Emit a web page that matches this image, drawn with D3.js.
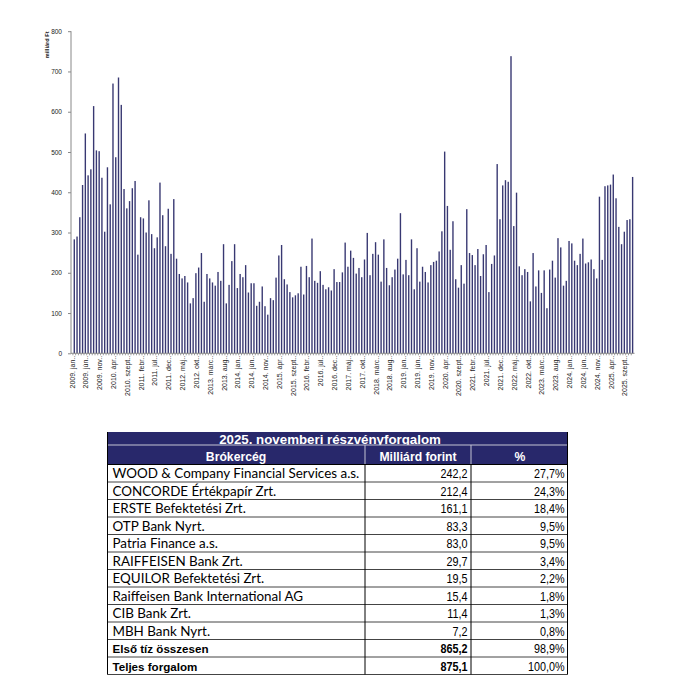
<!DOCTYPE html>
<html>
<head>
<meta charset="utf-8">
<script src="https://cdn.jsdelivr.net/npm/d3@7"></script>
<style>
html,body{margin:0;padding:0;background:#fff;}
svg{display:block;}
</style>
</head>
<body>
<svg id="chart" width="687" height="682"></svg>
<script>
// ---- DATA ----
const years = [2009,2010,2011,2012,2013,2014,2015,2016,2017,2018,2019,2020,2021,2022,2023,2024,2025];
const monthNames = ["jan.","febr.","márc.","ápr.","máj.","jún.","júl.","aug.","szept.","okt.","nov.","dec."];
const values = [
  283,290,338,418,546,442,457,614,504,502,436,302,
  462,370,670,487,685,617,408,360,378,410,428,245,
  338,335,300,380,296,261,288,424,343,266,359,247,
  383,235,197,186,192,176,124,137,199,213,249,128,
  197,186,176,168,202,180,271,124,170,229,271,162,
  197,189,219,151,174,174,118,128,166,117,96,137,
  132,188,243,269,184,171,152,139,144,149,215,146,
  217,189,285,180,175,204,170,159,164,156,209,177,
  177,201,275,215,255,237,198,212,189,233,299,194,
  247,276,245,178,283,212,169,189,208,235,348,196,
  232,194,283,159,261,178,215,202,176,219,227,230,
  253,303,501,366,257,328,184,163,219,173,358,249,
  244,219,259,192,246,269,152,222,243,470,333,417,
  430,426,738,316,399,216,194,209,202,129,249,166,
  206,150,206,112,208,230,188,286,263,168,180,279,
  273,230,219,247,285,223,226,233,209,186,389,232,
  415,417,419,444,385,314,271,302,331,333,438
];
const yTicks = [0,100,200,300,400,500,600,700,800];
const yTitle = "milliárd Ft";

const tableTitle = "2025. novemberi részvényforgalom";
const tableHeaders = ["Brókercég","Milliárd forint","%"];
const brokers = ["WOOD & Company Financial Services a.s.","CONCORDE Értékpapír Zrt.","ERSTE Befektetési Zrt.","OTP Bank Nyrt.","Patria Finance a.s.","RAIFFEISEN Bank Zrt.","EQUILOR Befektetési Zrt.","Raiffeisen Bank International AG","CIB Bank Zrt.","MBH Bank Nyrt."];
const brokerVolume = ["242,2","212,4","161,1","83,3","83,0","29,7","19,5","15,4","11,4","7,2"];
const brokerShare = ["27,7%","24,3%","18,4%","9,5%","9,5%","3,4%","2,2%","1,8%","1,3%","0,8%"];
const totalLabels = ["Első tíz összesen","Teljes forgalom"];
const totalVolume = ["865,2","875,1"];
const totalShare = ["98,9%","100,0%"];

// categories (Excel-style "éééé. hhh." labels, hence the double dot)
const categories = [];
years.forEach(y => monthNames.forEach(m => { categories.push(y + ". " + m + "."); }));
categories.length = values.length;
const data = categories.map((c,i)=>({cat:c, v:values[i]}));
const tickCats = categories.filter((c,i)=> i % 5 === 0);

// ---- CHART ----
const svg = d3.select("#chart");
const axisX0 = 71, axisX1 = 634.5;
const x = d3.scaleBand().domain(categories).range([72.9, 634.0]).paddingInner(0.5).paddingOuter(0.25);
const y = d3.scaleLinear().domain([0,800]).range([353.3, 31.2]);
const arial = "'Liberation Sans', Arial, sans-serif";

const g = svg.append("g");

g.selectAll("rect.bar").data(data).enter().append("rect")
  .attr("class","bar")
  .attr("x", d => x(d.cat))
  .attr("width", x.bandwidth())
  .attr("y", d => y(d.v))
  .attr("height", d => y(0) - y(d.v))
  .attr("fill", "#383872");

// y axis
const yAxis = g.append("g").attr("transform", `translate(${axisX0},0)`)
  .call(d3.axisLeft(y).tickValues(yTicks).tickSize(3).tickFormat(d3.format("d")));
yAxis.select(".domain").attr("stroke","#888").attr("d", `M0,${y(800)}V${y(0)}`);
yAxis.selectAll(".tick line").attr("stroke","#888");
yAxis.selectAll(".tick text").attr("x",-9).attr("font-family",arial).attr("font-size","6.5px").attr("fill","#222");

// y title
g.append("text")
  .attr("transform", `translate(48.8,31.5) rotate(-90)`)
  .attr("text-anchor","end")
  .attr("font-family",arial)
  .attr("font-size","5.6px").attr("font-weight","bold").attr("fill","#222")
  .text(yTitle);

// x axis: small ticks at every category
const xTicks = g.append("g").attr("transform", `translate(0,${y(0)})`)
  .call(d3.axisBottom(x).tickValues(categories).tickSize(2).tickFormat(""));
xTicks.select(".domain").attr("stroke","#888").attr("d", `M${axisX0},0H${axisX1}`);
xTicks.selectAll(".tick line").attr("stroke","#999").attr("transform", `translate(${-x.step()/2},0)`);

// x labels every 5th
const xLab = g.append("g").attr("transform", `translate(0,${y(0)})`)
  .call(d3.axisBottom(x).tickValues(tickCats).tickSize(0));
xLab.select(".domain").remove();
xLab.selectAll(".tick text")
  .attr("transform","rotate(-90)")
  .attr("text-anchor","end")
  .attr("x",-2.5).attr("y",-2.2).attr("dy","0.35em")
  .attr("font-family",arial)
  .attr("font-size","7px").attr("fill","#222");

// ---- TABLE ----
const tx0 = 107.5, tc1 = 365, tc2 = 471, tx3 = 567.5;
const titleTop = 432, headTop = 445, dataTop = 464.5, rowH = 17.5;
const navy = "#28286b";
const t = svg.append("g");

svg.append("defs").append("clipPath").attr("id","titleClip")
  .append("rect").attr("x",tx0).attr("y",titleTop).attr("width",tx3-tx0).attr("height",headTop-titleTop);

t.append("rect").attr("x",tx0).attr("y",titleTop).attr("width",tx3-tx0).attr("height",dataTop-titleTop).attr("fill",navy);

t.append("text").attr("clip-path","url(#titleClip)").attr("x",330).attr("y",headTop-1.3).attr("text-anchor","middle")
  .attr("font-family",arial).attr("font-weight","bold").attr("font-size","13.3px").attr("fill","#fff").text(tableTitle);
t.append("line").attr("x1",tx0).attr("x2",tx3).attr("y1",headTop).attr("y2",headTop).attr("stroke","#c4c4d4").attr("stroke-width",1);
[tc1,tc2].forEach(cx => t.append("line").attr("x1",cx).attr("x2",cx).attr("y1",headTop).attr("y2",dataTop).attr("stroke","#c4c4d4").attr("stroke-width",1));

function stretched(sel, xx, yy, k){
  return sel.attr("transform", `translate(${xx},${yy}) scale(1,${k})`);
}
const headX = [236, 418, 520];
tableHeaders.forEach((h,i)=> stretched(t.append("text"), headX[i], dataTop-3.2, 1.08).attr("text-anchor","middle")
  .attr("font-family",arial).attr("font-weight","bold").attr("font-size","12.2px").attr("fill","#fff").text(h));

const rows = brokers.map((b,i)=>({name:b, vol:brokerVolume[i], share:brokerShare[i], bold:false}))
  .concat(totalLabels.map((b,i)=>({name:b, vol:totalVolume[i], share:totalShare[i], bold:true})));
const nRows = rows.length;
const tableBottom = dataTop + nRows*rowH;

// grid lines
for (let i=0;i<=nRows;i++){
  t.append("line").attr("x1",tx0).attr("x2",tx3).attr("y1",dataTop+i*rowH).attr("y2",dataTop+i*rowH)
   .attr("stroke", i===0 ? "#000" : "#444").attr("stroke-width",1);
}
[tx0,tx3].forEach(cx => t.append("line").attr("x1",cx).attr("x2",cx).attr("y1",titleTop).attr("y2",tableBottom).attr("stroke","#000").attr("stroke-width",1));
[tc1,tc2].forEach(cx => t.append("line").attr("x1",cx).attr("x2",cx).attr("y1",dataTop).attr("y2",tableBottom).attr("stroke","#000").attr("stroke-width",1));

// name font calibration (match the reference width of the first broker name)
const probe = t.append("text").attr("font-family","Lato, 'Open Sans', sans-serif").attr("font-size","12px").text(brokers[0]);
const w = probe.node().getComputedTextLength();
probe.remove();
const nameSize = 12 * 247 / w;

rows.forEach((r,i)=>{
  const base = dataTop + (i+1)*rowH - 4;
  stretched(t.append("text"), 112.5, base, 1.0)
   .attr("font-family", r.bold ? arial : "Lato, 'Open Sans', sans-serif")
   .attr("font-size", r.bold ? "11.6px" : nameSize+"px")
   .attr("font-weight", r.bold ? "bold" : "normal").attr("fill","#000").text(r.name);
  stretched(t.append("text"), 467.5, base, 1.1).attr("text-anchor","end")
   .attr("font-family",arial).attr("font-size","10.8px").attr("font-weight", r.bold?"bold":"normal").attr("fill","#000").text(r.vol);
  stretched(t.append("text"), 564.5, base, 1.1).attr("text-anchor","end")
   .attr("font-family",arial).attr("font-size","10.8px").attr("fill","#000").text(r.share);
});
</script>
</body>
</html>
